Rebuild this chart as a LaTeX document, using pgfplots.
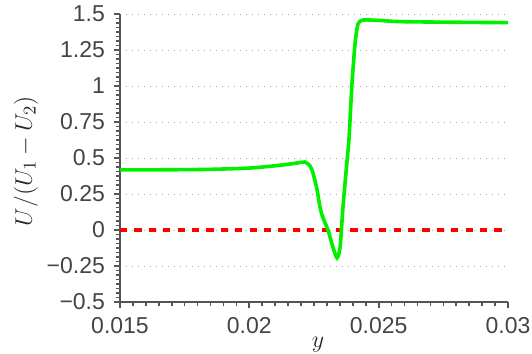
\documentclass[border=0pt]{standalone}
\usepackage{fontspec}
\setmainfont{Liberation Sans}
\usepackage{pgfplots}
\pgfplotsset{compat=1.18}
\definecolor{axgray}{HTML}{555555}
\definecolor{lblgray}{HTML}{444444}
\definecolor{mygreen}{HTML}{00F000}
\begin{document}
\begin{tikzpicture}
\begin{axis}[
  name=ax,
  scale only axis,
  width=194pt, height=144pt,
  xmin=0.015, xmax=0.03, ymin=-0.5, ymax=1.5,
  axis x line*=bottom, axis y line*=left,
  axis line style={axgray, line width=1.4pt, -},
  tick align=outside,
  major tick length=3pt, minor tick length=2pt,
  tick style={axgray, line width=1pt},
  minor tick style={axgray, line width=0.8pt},
  xtick={0.015,0.02,0.025,0.03},
  xticklabels={0.015,0.02,0.025,0.03},
  ytick={-0.5,-0.25,0,0.25,0.5,0.75,1,1.25,1.5},
  yticklabels={−0.5,−0.25,0,0.25,0.5,0.75,1,1.25,1.5},
  minor x tick num=9, minor y tick num=7,
  scaled x ticks=false,
  ymajorgrids,
  major grid style={gray!70, line width=0.5pt, dash pattern=on 0.5pt off 2.5pt},
  ticklabel style={font=\fontsize{11.5}{13}\selectfont, text=lblgray},
  xticklabel style={yshift=-1pt},
  yticklabel style={xshift=-1pt},
  xlabel={$y$}, ylabel={$U/(U_1-U_2)$},
  label style={font=\fontsize{12.3}{14}\selectfont, text=black!85},
  xlabel style={at={(axis description cs:0.5,0)}, anchor=base, yshift=-22.5pt, xshift=2pt},
  ylabel style={at={(axis description cs:0,0.5)}, anchor=center, yshift=47pt, xshift=-1.5pt},
  clip=false,
]
\addplot[red, line width=1.7pt, dash pattern=on 3.6pt off 3.6pt] coordinates {(0.015,0) (0.03,0)};
\addplot[mygreen, line width=1.8pt, smooth, tension=0.4] coordinates {
(0.015,0.417) (0.0181,0.42) (0.0200,0.43) (0.0212,0.45) (0.02177,0.463)
(0.02215,0.472) (0.02235,0.444) (0.02246,0.396) (0.02262,0.278) (0.02273,0.160)
(0.02285,0.083) (0.02304,0.0) (0.02323,-0.118) (0.02339,-0.194)
(0.02351,-0.118) (0.02362,0.16) (0.02378,0.486) (0.02385,0.625) (0.02397,1.02)
(0.02409,1.30) (0.02420,1.43) (0.02439,1.458) (0.02505,1.455) (0.02582,1.447)
(0.02776,1.443) (0.030,1.44)
};
\end{axis}
\pgfresetboundingbox
\path ([xshift=-60pt,yshift=-25.5pt]ax.south west) rectangle ([xshift=12pt,yshift=7pt]ax.north east);
\end{tikzpicture}
\end{document}
